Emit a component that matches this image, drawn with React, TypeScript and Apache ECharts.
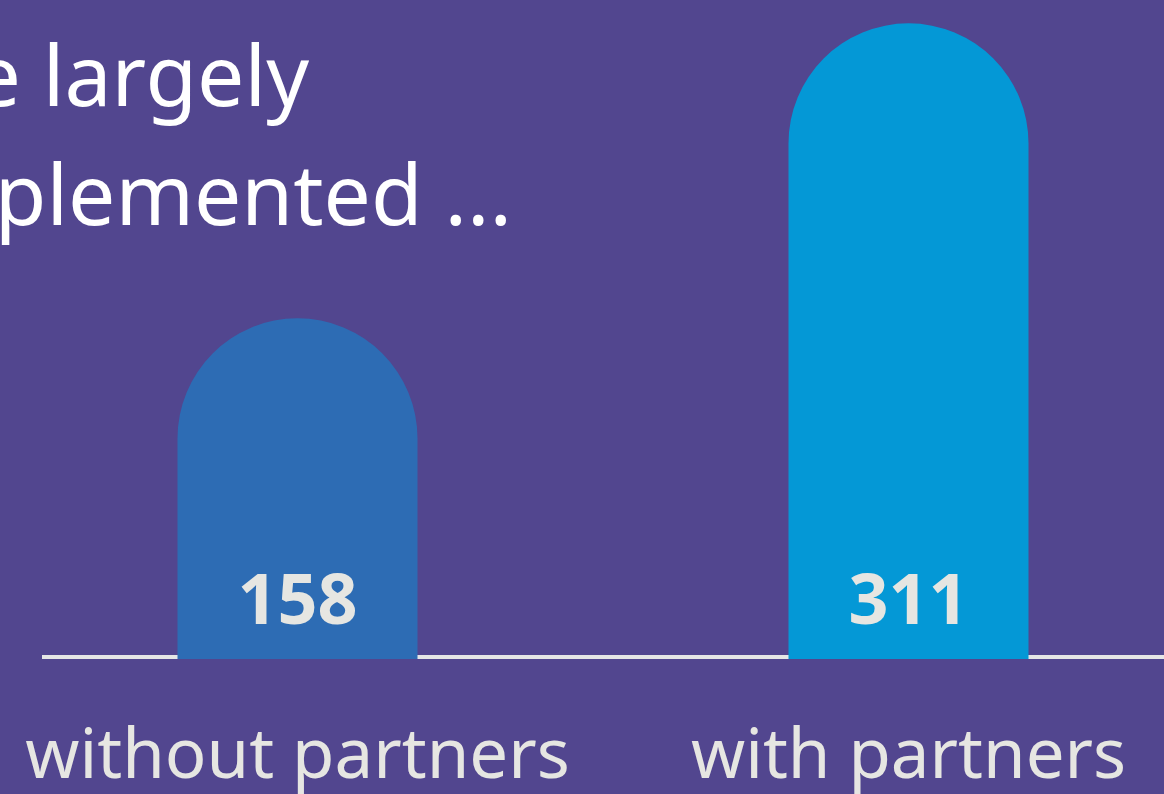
import React, { useEffect, useRef } from "react";
import * as echarts from "echarts";

const categories = ["without partners", "with partners"];
const values = [158, 311];
const barColors = ["#2D6CB4", "#0498D6"];
const titleLines = ["e largely", "plemented ..."];

const BG = "#52468F";
// the chart canvas is wider than the page and shifted left by OFF px
const OFF = 8;
const CHART_W = 1222;

export default function App() {
  const ref = useRef<HTMLDivElement>(null);
  useEffect(() => {
    document.body.style.margin = "0";
    if (!ref.current) return;
    const chart = echarts.init(ref.current, undefined, { renderer: "svg" });
    chart.setOption({
      animation: false,
      backgroundColor: BG,
      grid: { left: 0, right: 0, top: 0, bottom: 135, containLabel: false },
      xAxis: {
        type: "category",
        data: categories,
        axisLine: { show: false },
        axisTick: { show: false },
        axisLabel: {
          interval: 0,
          color: "#E6E6E2",
          fontFamily: "Noto Sans",
          fontSize: 69,
          lineHeight: 69,
          margin: 57,
        },
      },
      yAxis: {
        type: "value",
        min: -18.7,
        max: 323.1,
        startValue: -18.7,
        show: false,
        splitLine: { show: false },
      },
      graphic: [
        {
          type: "line",
          z: 1,
          shape: { x1: 42 + OFF, y1: 657, x2: CHART_W, y2: 657 },
          style: { stroke: "#E6E6E6", lineWidth: 4 },
        },
        {
          type: "text",
          x: 309 + OFF,
          y: 31,
          style: {
            text: titleLines[0],
            fill: "#FFFFFF",
            fontFamily: "Noto Sans",
            fontSize: 84,
            lineHeight: 84,
            textAlign: "right",
            textVerticalAlign: "top",
          },
        },
        {
          type: "text",
          x: 512 + OFF,
          y: 150,
          style: {
            text: titleLines[1],
            fill: "#FFFFFF",
            fontFamily: "Noto Sans",
            fontSize: 84,
            lineHeight: 84,
            textAlign: "right",
            textVerticalAlign: "top",
          },
        },
      ],
      series: [
        {
          type: "bar",
          z: 3,
          barWidth: 240,
          data: values.map((v, i) => ({
            value: v,
            itemStyle: { color: barColors[i] },
          })),
          itemStyle: { borderRadius: [120, 120, 0, 0] },
          label: {
            show: true,
            position: "insideBottom",
            distance: 27,
            color: "#E6E6E2",
            fontFamily: "Noto Sans",
            fontWeight: "bold",
            fontSize: 70,
            lineHeight: 70,
          },
        },
      ],
    });
    return () => chart.dispose();
  }, []);
  return (
    <div
      style={{
        position: "fixed",
        left: 0,
        top: 0,
        width: 1164,
        height: 794,
        overflow: "hidden",
        background: BG,
      }}
    >
      <div
        ref={ref}
        style={{ position: "absolute", left: -OFF, top: 0, width: CHART_W, height: 794 }}
      />
    </div>
  );
}
